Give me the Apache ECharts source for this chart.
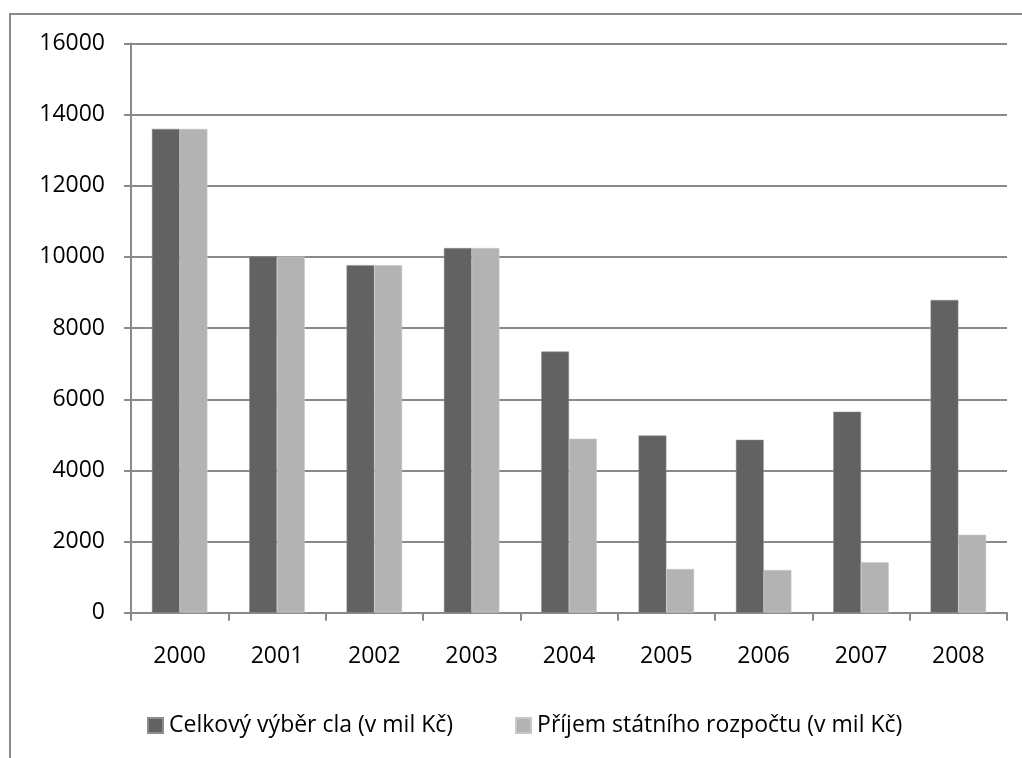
<!DOCTYPE html>
<html>
<head>
<meta charset="utf-8">
<script src="https://cdn.jsdelivr.net/npm/echarts@6/dist/echarts.min.js"></script>
<style>
html,body{margin:0;padding:0;background:#fff;}
#chart{width:1022px;height:758px;}
</style>
</head>
<body>
<div id="chart"></div>
<script>
const years = ['2000','2001','2002','2003','2004','2005','2006','2007','2008'];
const celkovyVyber = [13600, 10010, 9770, 10250, 7340, 4980, 4860, 5650, 8790];
const prijemRozpoctu = [13600, 10010, 9770, 10250, 4890, 1230, 1200, 1420, 2190];
const seriesNames = ['Celkový výběr cla (v mil Kč)', 'Příjem státního rozpočtu (v mil Kč)'];
const yTicks = { min: 0, max: 16000, interval: 2000 };

const FONT = 'Open Sans';
const FS = 23;
const chart = echarts.init(document.getElementById('chart'), null, {renderer: 'canvas'});
chart.setOption({
  animation: false,
  backgroundColor: '#ffffff',
  textStyle: { fontFamily: FONT },
  graphic: [{
    type: 'rect',
    shape: { x: 10, y: 14, width: 1030, height: 800 },
    style: { fill: 'none', stroke: '#8a8a8a', lineWidth: 2 },
    silent: true
  }],
  grid: { left: 131, right: 15, top: 43.5, bottom: 145.3, containLabel: false },
  legend: {
    data: seriesNames,
    bottom: 16,
    left: 142,
    itemWidth: 15,
    itemHeight: 15,
    itemGap: 62,
    icon: 'rect',
    textStyle: { fontFamily: FONT, fontSize: FS, color: '#000', padding: [0, 0, 0, 1] }
  },
  xAxis: {
    type: 'category',
    data: years,
    axisLine: { lineStyle: { color: '#8a8a8a', width: 2 } },
    axisTick: { show: true, length: 8, lineStyle: { color: '#8a8a8a', width: 2 } },
    axisLabel: { fontFamily: FONT, fontSize: FS, color: '#000', margin: 32 }
  },
  yAxis: {
    type: 'value',
    min: yTicks.min, max: yTicks.max, interval: yTicks.interval,
    axisLine: { show: true, lineStyle: { color: '#8a8a8a', width: 2 } },
    axisTick: { show: true, length: 7, lineStyle: { color: '#8a8a8a', width: 2 } },
    splitLine: { lineStyle: { color: '#8a8a8a', width: 2 } },
    axisLabel: { fontFamily: FONT, fontSize: FS, color: '#000', margin: 26, formatter: v => String(v) }
  },
  series: [
    {
      name: seriesNames[0], type: 'bar', data: celkovyVyber,
      barGap: '0%', barCategoryGap: '43%',
      itemStyle: { color: '#626262', borderColor: '#8c8c8c', borderWidth: 0.5 }
    },
    {
      name: seriesNames[1], type: 'bar', data: prijemRozpoctu,
      barGap: '0%', barCategoryGap: '43%',
      itemStyle: { color: '#b3b3b3', borderColor: '#c8c8c8', borderWidth: 0.5 }
    }
  ]
});
</script>
</body>
</html>
